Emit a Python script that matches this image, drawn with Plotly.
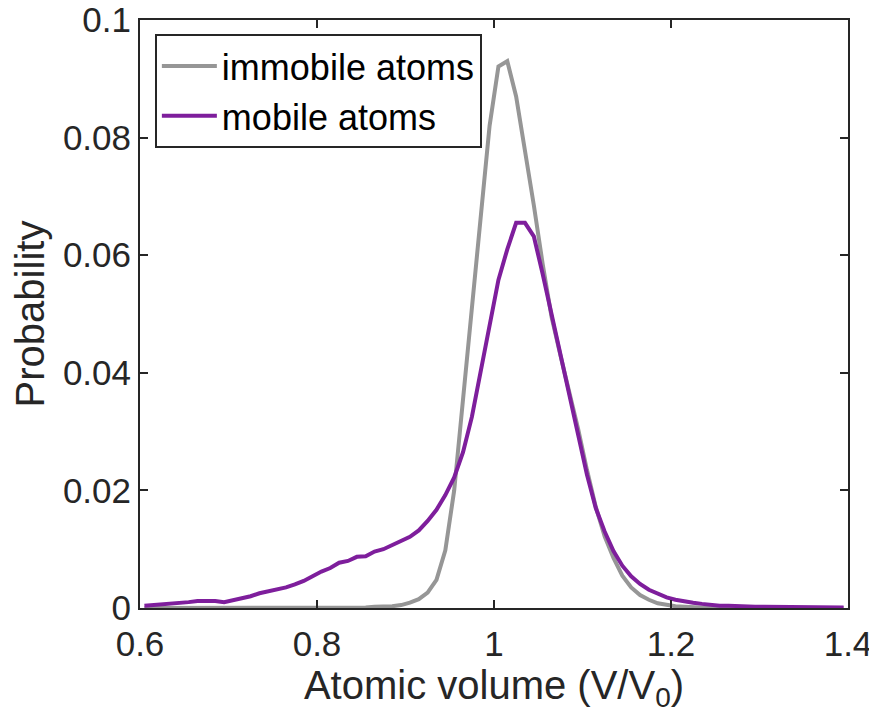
import plotly.graph_objects as go

x_vals = [round(0.605 + 0.01 * i, 3) for i in range(80)]

immobile = [
    0.0000, 0.0000, 0.0000, 0.0000, 0.0000, 0.0000, 0.0000, 0.0000, 0.0000, 0.0000,
    0.0000, 0.0000, 0.0000, 0.0000, 0.0000, 0.0000, 0.0000, 0.0000, 0.0000, 0.0000,
    0.0000, 0.0000, 0.0001, 0.0001, 0.0001, 0.0001, 0.0002, 0.0002, 0.0003, 0.0005,
    0.0009, 0.0015, 0.0026, 0.0048, 0.0098, 0.0200, 0.0355, 0.0500, 0.0670, 0.0820,
    0.0921, 0.0930, 0.0870, 0.0780, 0.0685, 0.0585, 0.0495, 0.0430, 0.0368, 0.0305,
    0.0235, 0.0172, 0.0122, 0.0085, 0.0055, 0.0035, 0.0022, 0.0014, 0.0008, 0.0005,
    0.0003, 0.0002, 0.0001, 0.0001, 0.0000, 0.0000, 0.0000, 0.0000, 0.0000, 0.0000,
    0.0000, 0.0000, 0.0000, 0.0000, 0.0000, 0.0000, 0.0000, 0.0000, 0.0000, 0.0000,
]

mobile = [
    0.0004, 0.0005, 0.0006, 0.0007, 0.0008, 0.0010, 0.0012, 0.0012, 0.0012, 0.0010,
    0.0013, 0.0016, 0.0020, 0.0025, 0.0028, 0.0031, 0.0035, 0.0040, 0.0046, 0.0054,
    0.0062, 0.0068, 0.0077, 0.0080, 0.0087, 0.0088, 0.0096, 0.0100, 0.0107, 0.0113,
    0.0121, 0.0132, 0.0148, 0.0167, 0.0192, 0.0222, 0.0265, 0.0325, 0.0405, 0.0480,
    0.0558, 0.0610, 0.0655, 0.0655, 0.0632, 0.0568, 0.0500, 0.0435, 0.0362, 0.0295,
    0.0227, 0.0170, 0.0130, 0.0097, 0.0072, 0.0054, 0.0041, 0.0031, 0.0024, 0.0018,
    0.0014, 0.0011, 0.0009, 0.0007, 0.0005, 0.0004, 0.0004, 0.0003, 0.0002, 0.0002,
    0.0002, 0.0002, 0.0001, 0.0001, 0.0001, 0.0001, 0.0001, 0.0001, 0.0001, 0.0001,
]

x_ticks = [0.6, 0.8, 1.0, 1.2, 1.4]
x_tick_text = ["0.6", "0.8", "1", "1.2", "1.4"]
y_ticks = [0, 0.02, 0.04, 0.06, 0.08, 0.1]
y_tick_text = ["0", "0.02", "0.04", "0.06", "0.08", "0.1"]

FONT = "Liberation Sans, Arial, sans-serif"
AX = "#262626"
TICK_SIZE = 35
LABEL_SIZE = 40

fig = go.Figure()
fig.add_trace(go.Scatter(x=x_vals, y=immobile, mode="lines", name="immobile atoms",
                         line=dict(color="#969696", width=4)))
fig.add_trace(go.Scatter(x=x_vals, y=mobile, mode="lines", name="mobile atoms",
                         line=dict(color="#7E1E9C", width=4)))

axis_common = dict(showline=True, linecolor=AX, linewidth=2, mirror="ticks",
                   ticks="inside", ticklen=8, tickwidth=2, tickcolor=AX,
                   showgrid=False, zeroline=False, automargin=False,
                   ticklabeloverflow="allow",
                   tickfont=dict(family=FONT, size=TICK_SIZE, color=AX))

# the page body adds an 8px offset, so the figure is sized to fit the window
fig.update_layout(
    width=869, height=714,
    margin=dict(l=132, r=29, t=12, b=114),
    paper_bgcolor="white", plot_bgcolor="white",
    font=dict(family=FONT, size=TICK_SIZE, color=AX),
    xaxis=dict(range=[0.6, 1.4], tickvals=x_ticks, ticktext=x_tick_text,
               ticklabelstandoff=4,
               title=dict(text="Atomic volume (V/V<sub>0</sub>)", standoff=2,
                          font=dict(family=FONT, size=LABEL_SIZE, color=AX)),
               **axis_common),
    yaxis=dict(range=[0, 0.1], tickvals=y_ticks, ticktext=y_tick_text,
               title=dict(text="Probability", standoff=6,
                          font=dict(family=FONT, size=LABEL_SIZE, color=AX)),
               **axis_common),
    legend=dict(x=0.021, y=0.976, xanchor="left", yanchor="top",
                bgcolor="white", bordercolor=AX, borderwidth=2,
                font=dict(family=FONT, size=36, color="black"),
                itemwidth=55, tracegroupgap=0),
    showlegend=True,
)

fig.write_html("out.html")
